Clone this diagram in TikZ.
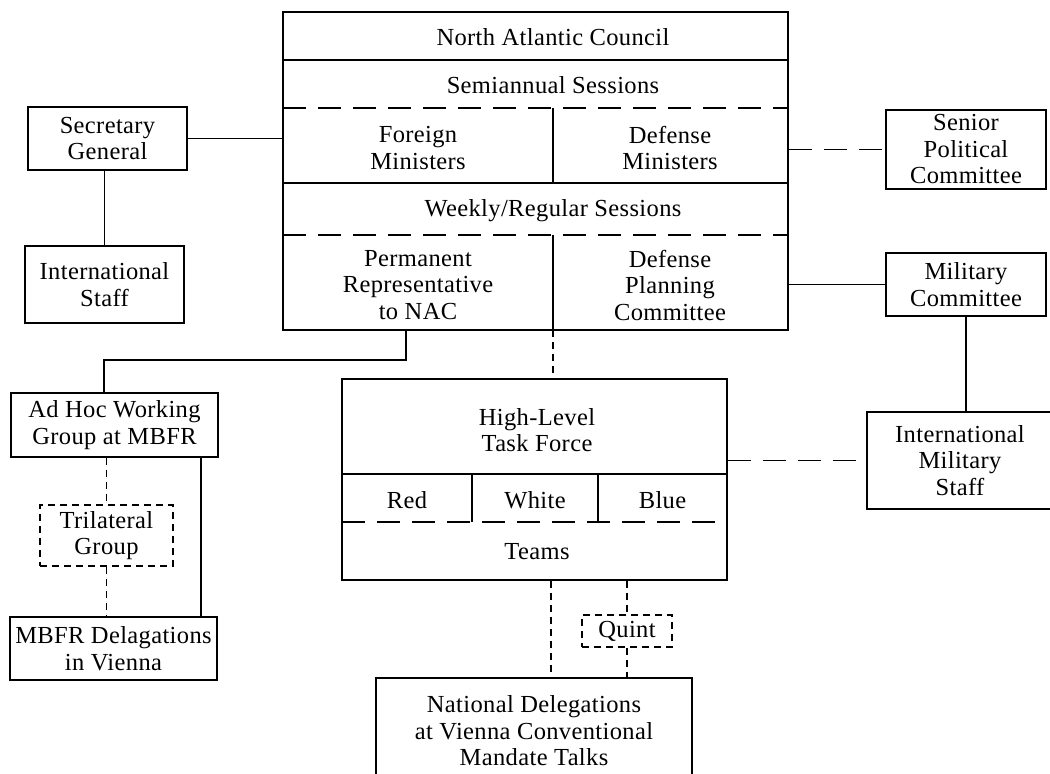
\documentclass[tikz,border=0pt]{standalone}
\usepackage{fontspec}
\setmainfont[LetterSpace=1.5]{Liberation Serif}

\begin{document}
\begin{tikzpicture}[x=1pt, y=-1pt, line width=1.9pt,
    orgbox/.style={draw, align=center, inner sep=0pt,
        font=\fontsize{24.5}{26.5}\selectfont},
    cell/.style={align=center, inner sep=0pt,
        font=\fontsize{24.5}{26.5}\selectfont},
    longdash/.style={dash pattern=on 23pt off 12pt},
    shortdash/.style={dash pattern=on 7pt off 5pt}
]
    \useasboundingbox (0,0) rectangle (1050,774);
    \clip (0,0) rectangle (1050,774);

    % North Atlantic Council
    \node[orgbox, minimum width=505pt, minimum height=318pt] (nac) at (535.5,171) {};
    \node[cell] (nactitle) at (553,37) {North Atlantic Council};
    \node[cell] (semi) at (553,85) {Semiannual Sessions};
    \node[cell] (formin) at (418,148) {Foreign\\Ministers};
    \node[cell] (defmin) at (670,148) {Defense\\Ministers};
    \node[cell] (weekly) at (553,211) {Weekly/Regular Sessions};
    \node[cell] (permrep) at (418,285) {Permanent\\Representative\\to NAC};
    \node[cell] (dpc) at (670,285) {Defense\\Planning\\Committee};
    \draw (283,60) -- (788,60);
    \draw[longdash] (283,108) -- (788,108);
    \draw (283,183) -- (788,183);
    \draw[longdash] (283,235) -- (788,235);
    \draw (553,108) -- (553,183);
    \draw (553,235) -- (553,330);

    % left side
    \node[orgbox, minimum width=159pt, minimum height=63pt] (secgen) at (107.5,138.5) {Secretary\\General};
    \node[orgbox, minimum width=159pt, minimum height=77pt] (intstaff) at (104.5,284.5) {International\\Staff};
    \node[orgbox, minimum width=207pt, minimum height=64pt] (adhoc) at (114.5,425) {Ad Hoc Working\\Group at MBFR};
    \node[orgbox, shortdash, minimum width=133pt, minimum height=61pt] (trilat) at (106.5,535.5) {Trilateral\\Group};
    \node[orgbox, minimum width=207pt, minimum height=63pt] (mbfr) at (113.5,648.5) {MBFR Delagations\\in Vienna};

    % right side
    \node[orgbox, minimum width=160pt, minimum height=79pt] (spc) at (966,149.5) {Senior\\Political\\Committee};
    \node[orgbox, minimum width=160pt, minimum height=63pt] (milcom) at (966,284.5) {Military\\Committee};
    \node[orgbox, minimum width=186pt, minimum height=97pt] (ims) at (960,460.5) {International\\Military\\Staff};

    % High-Level Task Force
    \node[orgbox, minimum width=385pt, minimum height=201pt] (hltf) at (534.5,479.5) {};
    \node[cell] (hltftitle) at (537,430) {High-Level\\Task Force};
    \node[cell] (red) at (407,500) {Red};
    \node[cell] (white) at (535,500) {White};
    \node[cell] (blue) at (662.5,500) {Blue};
    \node[cell] (teams) at (537,552) {Teams};
    \draw (342,474) -- (727,474);
    \draw[longdash] (342,522) -- (727,522);
    \draw (472,474) -- (472,522);
    \draw (598,474) -- (598,522);

    \node[orgbox, shortdash, minimum width=90pt, minimum height=32pt] (quint) at (627,631) {Quint};
    \node[orgbox, minimum width=316pt, minimum height=106pt] (natdel) at (534,731) {National Delegations\\at Vienna Conventional\\Mandate Talks};

    % connectors
    \draw (secgen.east) -- (secgen.east -| nac.west);
    \draw (secgen.south -| intstaff.north) -- (intstaff.north);
    \coordinate (prdrop) at (406,360);
    \coordinate (adhocin) at (104,393);
    \draw (prdrop |- nac.south) -- (prdrop) -| (adhocin);
    \draw[shortdash] (trilat.north |- adhoc.south) -- (trilat.north);
    \draw[shortdash] (trilat.south) -- (trilat.south |- mbfr.north);
    \draw ([xshift=86.5pt]adhoc.south) -- ([xshift=87.5pt]mbfr.north);
    \draw[longdash] (spc.west -| nac.east) -- (spc.west);
    \draw (milcom.west -| nac.east) -- (milcom.west);
    \draw (milcom.south) -- (milcom.south |- ims.north);
    \draw[longdash] (ims.west -| hltf.east) -- (ims.west);
    \coordinate (divbot) at (553,330);
    \draw[shortdash] (divbot) -- (divbot |- hltf.north);
    \draw[shortdash] ([xshift=16.5pt]hltf.south) -- ([xshift=17pt]natdel.north);
    \draw[shortdash] (quint.north |- hltf.south) -- (quint.north);
    \draw[shortdash] (quint.south) -- (quint.south |- natdel.north);
\end{tikzpicture}
\end{document}
